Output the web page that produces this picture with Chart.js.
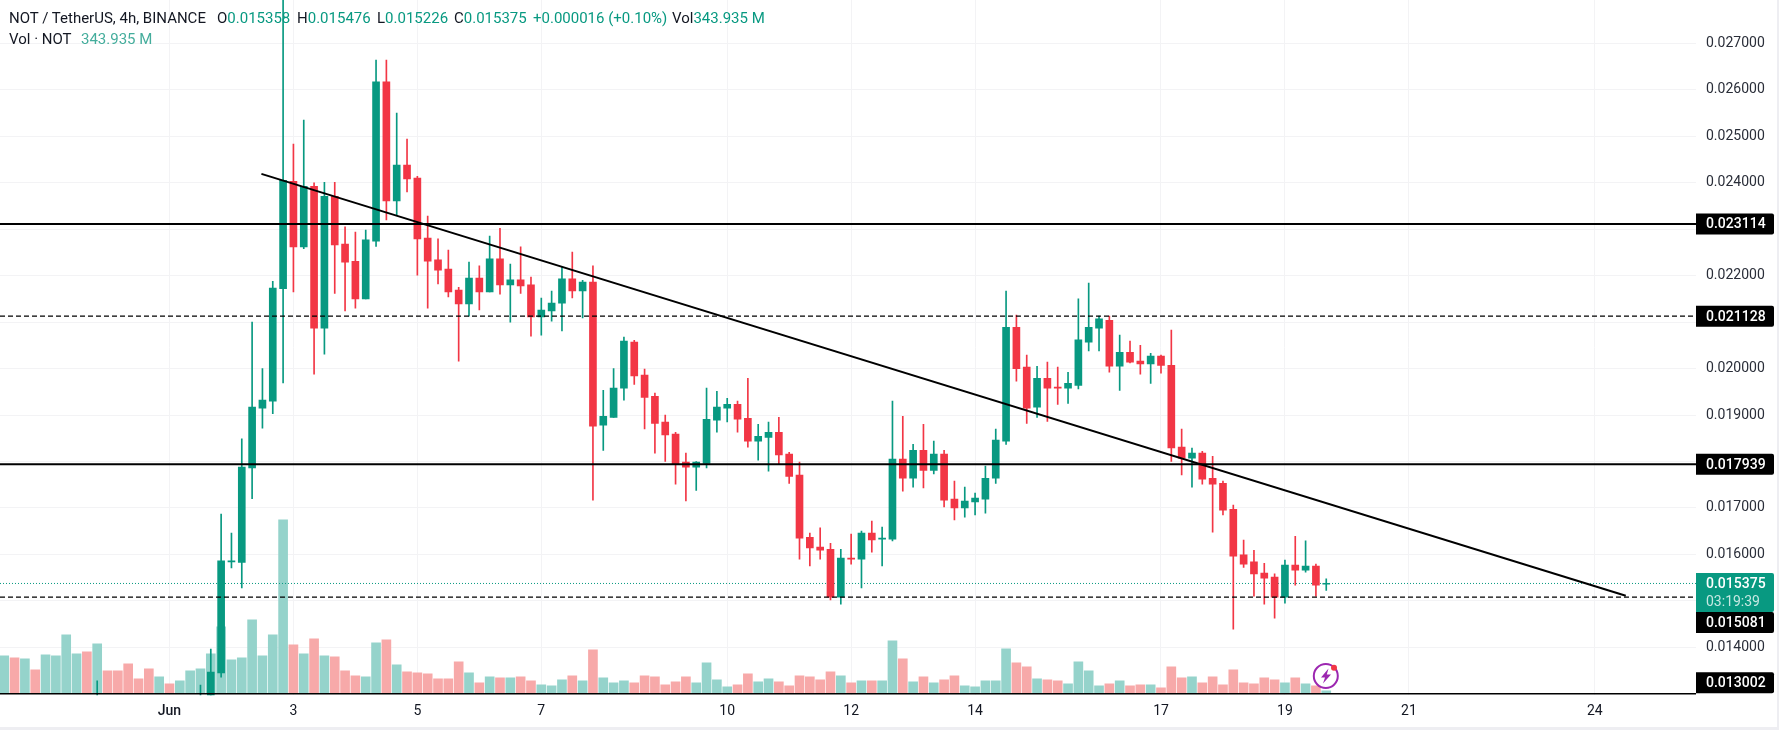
<!DOCTYPE html>
<html>
<head>
<meta charset="utf-8">
<title>NOT / TetherUS</title>
<script src="https://cdn.jsdelivr.net/npm/chart.js@4/dist/chart.umd.min.js"></script>
<style>
  html, body { margin: 0; padding: 0; width: 1779px; height: 730px; overflow: hidden; background: #eeeef2; }
  #wrap { position: absolute; left: 0; top: 0; width: 1777px; height: 727px; background: #fff; }
  #chart { position: absolute; left: 0; top: 0; }
  .hd { position: absolute; font: 15px Roboto, sans-serif; color: #131722; white-space: nowrap; line-height: 18px; }
  .hd b { font-weight: 400; color: #089981; }
  .hd i { font-style: normal; color: #44ad9c; }
  #bolt { position: absolute; left: 1310px; top: 660px; }
</style>
</head>
<body>
<div id="wrap">
  <canvas id="chart" width="1777" height="727"></canvas>
  <div class="hd" style="left:9px;top:9px">NOT / TetherUS, 4h, BINANCE</div>
  <div class="hd" style="left:217px;top:9px">O<b>0.015358</b></div>
  <div class="hd" style="left:297px;top:9px">H<b>0.015476</b></div>
  <div class="hd" style="left:377px;top:9px">L<b>0.015226</b></div>
  <div class="hd" style="left:454px;top:9px">C<b>0.015375</b></div>
  <div class="hd" style="left:533px;top:9px"><b>+0.000016 (+0.10%)</b></div>
  <div class="hd" style="left:672px;top:9px">Vol<b>343.935 M</b></div>
  <div class="hd" style="left:9px;top:30px">Vol · NOT</div>
  <div class="hd" style="left:81px;top:30px"><i>343.935 M</i></div>
  <svg id="bolt" width="32" height="32" viewBox="0 0 32 32">
    <circle cx="15.8" cy="16" r="12" fill="#fff" fill-opacity="0.55" stroke="#9c27b0" stroke-width="2"/>
    <path d="M18.5 8.5 L11 17.5 H15 L13 23.5 L21 14.5 H16.8 Z" fill="#9c27b0"/>
    <circle cx="24" cy="7.7" r="3" fill="#f23645"/>
  </svg>
</div>
<script>
// prices are in thousandths (24.03 means 0.024030), volume in millions
const volumeStart = -16
const volumes = [5600,5300,5150,3500,5750,5600,8750,5900,6200,7400,3350,3350,4400,2150,3650,2450,
  1400,1850,3350,3650,5900,9950,5000,5300,11000,5600,8750,26000,7250,5900,8150,5600,5450,3350,2600,2450,
  7550,8000,4250,3200,3050,2900,2150,2150,4700,3050,1550,2450,2300,2300,2450,1850,1250,1100,2000,2600,
  1850,6500,2300,1550,1850,1550,2600,2450,1250,1700,2450,1550,4550,2000,950,1250,2900,1700,2150,1700,
  1100,2600,2450,2000,3200,2600,1550,1850,1850,1850,7850,5150,1700,2450,1550,2000,2600,1100,950,1850,
  1850,6650,4550,3950,2150,2000,1850,1400,4700,3350,1100,1400,1850,1100,1250,1250,800,3950,2300,2450,
  1550,2450,1250,3500,1550,1400,2300,2000,1550,2300,1400,1100,344]
const volumeUp = [1,0,1,0,1,1,1,1,0,1,0,0,0,0,0,1,
  0,1,1,1,1,1,1,1,1,1,1,1,0,1,0,1,0,0,0,1,
  1,0,1,0,0,0,0,0,0,1,0,1,0,1,0,0,1,1,1,0,
  1,0,1,1,1,0,0,0,0,0,0,1,1,1,1,0,0,1,1,0,
  0,0,0,0,0,1,0,1,0,1,1,0,1,0,1,0,0,1,1,1,
  1,1,0,0,1,0,0,1,1,1,1,0,1,0,0,1,0,0,0,1,
  0,0,0,0,0,0,0,0,1,0,1,0,1]

const candleStart = 3
const opens = [null,12.4,13.45,15.84,15.83,17.86,19.15,19.30,21.72,24.03,22.62,23.92,20.87,23.71,22.68,22.31,21.50,
  22.74,26.17,23.61,24.38,24.10,22.81,22.34,22.14,21.69,21.39,21.95,21.65,22.36,21.80,21.91,21.80,21.11,21.24,21.41,
  21.93,21.67,21.86,18.78,18.95,19.58,20.57,19.86,19.40,18.85,18.59,17.99,17.88,17.96,18.89,19.15,19.23,18.93,18.44,
  18.52,18.63,18.16,17.71,16.37,16.16,16.11,15.08,15.92,15.90,16.46,16.33,16.33,18.05,17.64,18.24,17.81,18.16,17.19,
  17.00,17.13,17.19,17.64,18.44,20.89,20.03,19.17,19.79,19.60,19.58,19.64,20.57,20.87,21.04,20.05,20.35,20.16,20.10,
  20.27,20.07,18.31,18.07,18.18,17.64,17.53,16.97,15.99,15.84,15.60,15.51,15.08,15.77,15.66,15.75,15.358]
const closes = [null,13.47,15.86,15.85,17.88,19.17,19.32,21.73,24.05,22.62,23.92,20.87,23.71,22.66,22.29,21.50,22.77,
  26.17,23.61,24.38,24.08,22.79,22.31,22.12,21.65,21.39,21.95,21.65,22.36,21.80,21.91,21.78,21.11,21.26,21.41,21.93,
  21.67,21.86,18.76,18.97,19.58,20.59,19.84,19.38,18.82,18.57,17.94,17.88,17.99,18.91,19.17,19.23,18.91,18.44,18.54,
  18.63,18.14,17.68,16.35,16.14,16.09,15.08,15.92,15.90,16.46,16.31,16.34,18.05,17.64,18.24,17.81,18.16,17.17,17.00,
  17.15,17.21,17.64,18.46,20.89,20.00,19.15,19.79,19.58,19.58,19.68,20.62,20.89,21.07,20.05,20.35,20.14,20.10,20.27,
  20.07,18.29,18.07,18.18,17.62,17.51,16.95,15.96,15.79,15.58,15.49,15.08,15.77,15.66,15.75,15.34,15.375]
const highs = [13.19,13.96,16.87,16.46,18.49,21.00,20.00,21.88,28.50,24.83,25.35,24.00,24.01,24.01,23.05,22.94,22.98,
  26.64,26.64,25.50,24.94,24.14,23.28,22.79,22.55,21.75,22.29,22.21,22.85,23.02,22.25,22.62,21.97,21.52,21.67,22.18,
  22.51,21.90,22.21,19.53,20.00,20.68,20.61,19.99,19.47,19.00,18.63,18.18,18.00,19.58,19.51,19.36,19.30,19.79,18.80,
  18.85,18.95,18.20,17.99,16.46,16.57,16.24,16.11,16.44,16.50,16.72,16.59,19.30,18.97,18.37,18.80,18.44,18.24,17.58,
  17.45,17.32,17.90,18.70,21.67,21.15,20.29,20.05,20.14,20.03,19.92,21.50,21.84,21.13,21.13,20.72,20.59,20.50,20.33,
  20.29,20.83,18.70,18.29,18.22,18.11,17.58,17.06,16.31,16.09,15.81,15.58,15.88,16.39,16.29,15.79,15.476]
const lows = [12.50,12.40,13.36,15.71,15.28,17.20,18.72,19.03,19.69,21.65,22.58,19.88,20.31,21.62,21.24,21.30,21.50,
  22.63,23.20,23.30,23.80,22.01,21.30,21.82,21.54,20.16,21.13,21.26,21.65,21.60,21.00,21.62,20.70,20.72,21.02,20.81,
  21.52,21.09,17.17,18.24,18.95,19.32,19.66,18.70,18.18,18.00,17.51,17.15,17.38,17.86,18.63,18.85,18.63,18.31,18.03,
  17.79,17.94,17.53,15.90,15.75,15.90,15.02,14.93,15.79,15.28,16.05,15.75,16.29,17.36,17.45,17.43,17.73,17.02,16.74,
  16.80,16.85,16.89,17.53,18.37,19.73,18.82,18.95,18.86,19.23,19.25,19.56,20.38,20.38,19.92,19.53,20.12,19.88,19.68,
  19.90,18.00,17.71,17.45,17.51,16.48,16.85,14.39,15.72,15.10,14.93,14.63,14.95,15.34,15.62,15.10,15.226]
const earlyWickBar = -7
const earlyWick = [12.5, 13.28]

const priceTicks = [14,15,16,17,18,19,20,21,22,23,24,25,26,27]
const tickBars = [0,12,24,36,54,66,78,96,108,120,138]
const dateLabels = ['Jun','3','5','7','10','12','14','17','19','21','24']

const solidLevels = [23.114, 17.939]
const dashedLevels = [21.128, 15.081]
const floorLevel = 13.002
const lastPrice = 15.375
const trendBars = [8.9, 141]
const trendPrices = [24.19, 15.11]

const tagPrices = [23.114, 21.128, 17.939, 15.081, 13.002]
const tagLabels = ['0.023114','0.021128','0.017939','0.015081','0.013002']
const tagShift = [0, 0, 0, 25.5, -11]
const lastLabels = ['0.015375', '03:19:39']

const UP = '#089981', DOWN = '#f23645'
const xMin = -16.41, xMax = 147.8

const isHidden = v => tagPrices.some(p => Math.abs(p - v) < 0.2)
const fixed6 = v => (v / 1000).toFixed(6)
const bars = closes.map((_, i) => i + candleStart)
const hline = v => [{ x: xMin, y: v }, { x: xMax, y: v }]
const level = (v, extra) => Object.assign({
  type: 'line', data: hline(v), borderColor: '#000', borderWidth: 2, pointRadius: 0, xAxisID: 'x', yAxisID: 'y', order: 1
}, extra)
// the pane runs edge to edge, so drop the room chart.js keeps for half a label
const noPadding = s => { s.paddingTop = s.paddingBottom = s.paddingLeft = s.paddingRight = 0 }

const tagPlugin = {
  id: 'priceTags',
  afterDraw(chart) {
    const { ctx, scales: { y }, chartArea } = chart
    const left = chartArea.right, w = 78
    ctx.save()
    ctx.textBaseline = 'middle'
    ctx.textAlign = 'left'
    tagPrices.forEach((p, i) => {
      const c = y.getPixelForValue(p) + tagShift[i]
      ctx.fillStyle = '#000'
      ctx.beginPath()
      ctx.roundRect(left, c - 10.5, w, 21, [0, 2, 2, 0])
      ctx.fill()
      ctx.fillStyle = '#fff'
      ctx.font = '500 14px Roboto'
      ctx.fillText(tagLabels[i], left + 10, c + 1)
    })
    const c = y.getPixelForValue(lastPrice)
    ctx.fillStyle = UP
    ctx.beginPath()
    ctx.roundRect(left, c - 10.5, w, 39, [0, 2, 2, 0])
    ctx.fill()
    ctx.fillStyle = '#fff'
    ctx.font = '500 14px Roboto'
    ctx.fillText(lastLabels[0], left + 10, c + 1)
    ctx.fillStyle = '#c6e8e2'
    ctx.font = '14px Roboto'
    ctx.fillText(lastLabels[1], left + 10, c + 19)
    ctx.restore()
  }
}

new Chart(document.getElementById('chart'), {
  type: 'bar',
  plugins: [tagPlugin],
  data: {
    datasets: [
      {
        data: volumes.map((v, i) => ({ x: i + volumeStart, y: v })),
        backgroundColor: volumeUp.map(u => u ? '#95d3cb' : '#f7a9a9'),
        barThickness: 9,
        grouped: false,
        xAxisID: 'x',
        yAxisID: 'vol',
        order: 5
      },
      level(lastPrice, { borderColor: UP, borderWidth: 1, borderDash: [1, 2], order: 4 }),
      {
        data: [{ x: earlyWickBar, y: earlyWick }].concat(bars.map((b, i) => ({ x: b, y: [lows[i], highs[i]] }))),
        backgroundColor: [UP].concat(bars.map((b, i) => closes[i] === null || closes[i] >= opens[i] ? UP : DOWN)),
        barThickness: 1,
        grouped: false,
        xAxisID: 'x',
        yAxisID: 'y',
        order: 3
      },
      {
        data: bars.map((b, i) => ({ x: b, y: closes[i] === null ? null : [opens[i], closes[i]] })),
        backgroundColor: bars.map((b, i) => closes[i] >= opens[i] ? UP : DOWN),
        barThickness: 7,
        minBarLength: 1,
        grouped: false,
        xAxisID: 'x',
        yAxisID: 'y',
        order: 2
      },
      level(solidLevels[0]),
      level(solidLevels[1]),
      level(dashedLevels[0], { borderWidth: 1.2, borderDash: [5, 3] }),
      level(dashedLevels[1], { borderWidth: 1.2, borderDash: [5, 3] }),
      level(floorLevel, { borderWidth: 1.5 }),
      {
        type: 'line',
        data: trendBars.map((b, i) => ({ x: b, y: trendPrices[i] })),
        borderColor: '#000',
        borderWidth: 2,
        pointRadius: 0,
        xAxisID: 'x',
        yAxisID: 'y',
        order: 1
      }
    ]
  },
  options: {
    responsive: false,
    devicePixelRatio: 1,
    animation: false,
    plugins: { legend: { display: false }, tooltip: { enabled: false } },
    layout: { padding: 0 },
    scales: {
      x: {
        type: 'linear',
        offset: false,
        min: xMin,
        max: xMax,
        afterBuildTicks: s => { s.ticks = tickBars.map(v => ({ value: v })) },
        afterFit: s => { s.height = 31.8; noPadding(s) },
        grid: { color: '#f3f3f5', drawTicks: false, offset: false },
        border: { display: false },
        ticks: {
          autoSkip: false,
          maxRotation: 0,
          padding: 7.6,
          color: '#131722',
          font: c => ({ family: 'Roboto', size: 14, weight: c.index === 0 ? '500' : '400' }),
          callback: v => dateLabels[tickBars.indexOf(v)]
        }
      },
      y: {
        position: 'right',
        min: 12.97,
        max: 27.933,
        afterBuildTicks: s => { s.ticks = priceTicks.map(v => ({ value: v })) },
        afterFit: s => { s.width = 81; noPadding(s) },
        grid: { color: '#f3f3f5', drawTicks: false },
        border: { display: false },
        ticks: {
          padding: 10,
          crossAlign: 'near',
          color: '#2a2e39',
          font: { family: 'Roboto', size: 14 },
          callback: v => isHidden(v) ? '' : fixed6(v)
        }
      },
      vol: {
        display: false,
        min: -300,
        max: 103980
      }
    }
  }
})
</script>
</body>
</html>
